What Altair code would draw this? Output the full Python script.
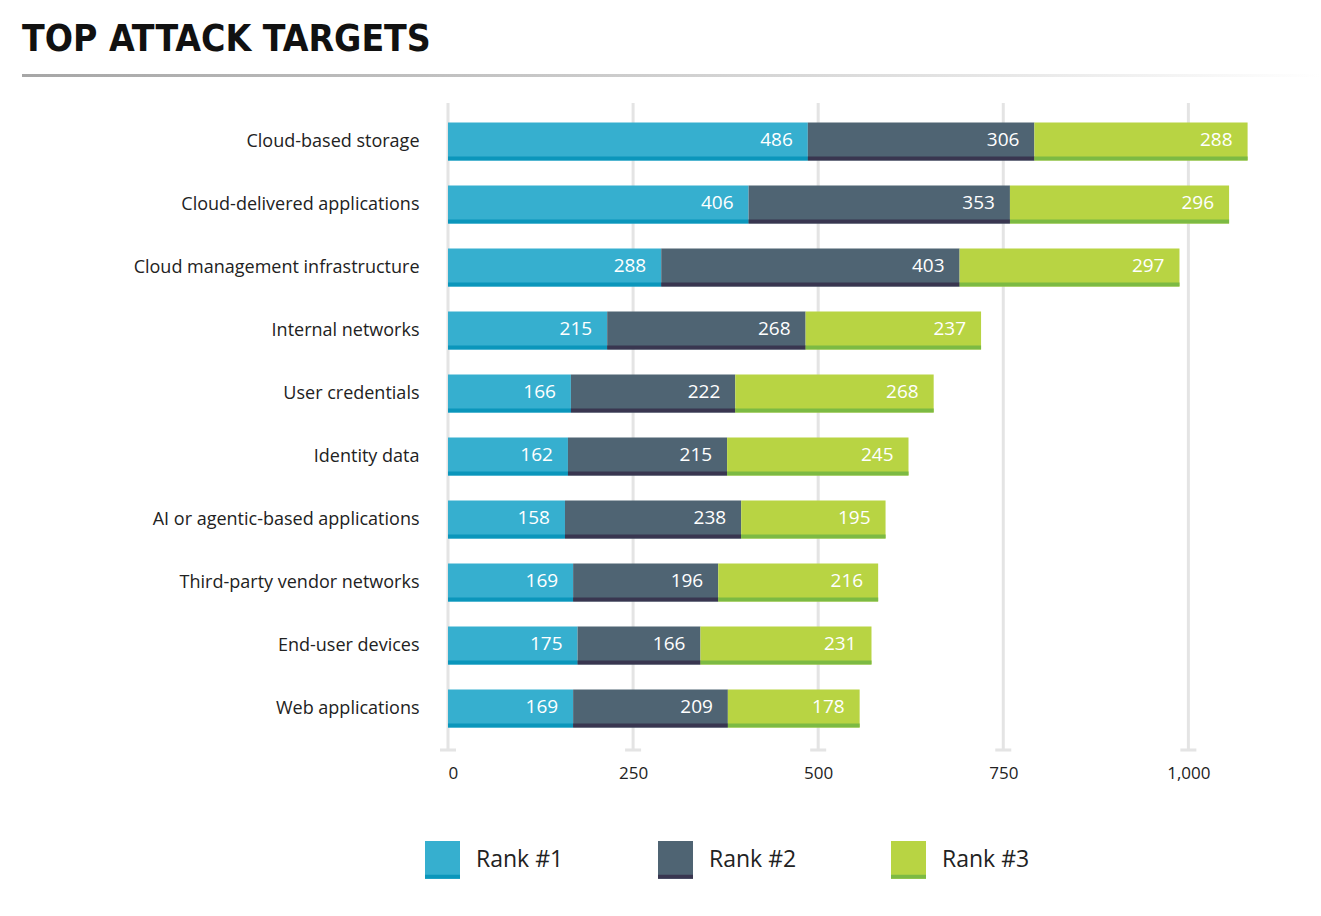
import altair as alt
import pandas as pd

# Survey results: how often each target was ranked #1, #2 and #3
targets = [
    "Cloud-based storage",
    "Cloud-delivered applications",
    "Cloud management infrastructure",
    "Internal networks",
    "User credentials",
    "Identity data",
    "AI or agentic-based applications",
    "Third-party vendor networks",
    "End-user devices",
    "Web applications",
]
rank1 = [486, 406, 288, 215, 166, 162, 158, 169, 175, 169]
rank2 = [306, 353, 403, 268, 222, 215, 238, 196, 166, 209]
rank3 = [288, 296, 297, 237, 268, 245, 195, 216, 231, 178]

ranks = ["Rank #1", "Rank #2", "Rank #3"]
rank_ids = ["1", "2", "3"]
bar_colors = ["#36AFCF", "#4F6473", "#B8D443"]
strip_colors = ["#0B96BB", "#393650", "#7CBA43"]
tick_values = [0, 250, 500, 750, 1000]

# stacked segments with explicit start / end
rows = []
for i, t in enumerate(targets):
    start = 0
    for r, rid, vals in zip(ranks, rank_ids, [rank1, rank2, rank3]):
        v = vals[i]
        rows.append({"target": t, "rank": r, "rank_id": rid, "value": v,
                     "start": start, "end": start + v})
        start += v
df = pd.DataFrame(rows)
grid_df = pd.DataFrame({"tick": tick_values})
one = pd.DataFrame({"k": [0]})

W, H = 807, 630
LEFT, TOP = 448, 110
FONT = "Open Sans"

x_scale = alt.Scale(domain=[0, 1090], nice=False, zero=True)
x_axis = alt.Axis(
    title=None, values=tick_values, format=",.0f", domain=False, ticks=False,
    grid=False, labelPadding=25, labelFontSize=17, labelFont=FONT,
    labelColor="#222",
)
y_enc = alt.Y(
    "target:N",
    sort=targets,
    scale=alt.Scale(paddingInner=0, paddingOuter=0),
    axis=alt.Axis(
        title=None, domain=False, ticks=False, labelPadding=29,
        labelFontSize=18, labelFont=FONT, labelColor="#222", labelLimit=400,
    ),
)

legend_common = dict(
    title=None, orient="none", legendX=-23, legendY=732, direction="horizontal",
    symbolSize=1225, symbolStrokeWidth=0, symbolOpacity=1,
    labelFontSize=23, labelFont=FONT, labelColor="#222", labelOffset=16,
    columnPadding=94, padding=0,
)

# vertical gridlines with a small cap at the bottom
grid = alt.Chart(grid_df).mark_rule(color="#e4e4e4", strokeWidth=3).encode(
    x=alt.X("tick:Q", scale=x_scale, axis=x_axis),
    y=alt.value(-7),
    y2=alt.value(640),
)
caps = alt.Chart(grid_df).mark_point(
    shape="M-1,-0.19H1V0.19H-1Z", filled=True, size=256, color="#e4e4e4", opacity=1
).encode(x=alt.X("tick:Q", scale=x_scale), y=alt.value(640))

# fading separator under the title
separator = alt.Chart(one).mark_rect(
    color=alt.LinearGradient(
        gradient="linear",
        stops=[
            alt.GradientStop(color="#a6a6a6", offset=0),
            alt.GradientStop(color="#d8d8d8", offset=0.6),
            alt.GradientStop(color="#ffffff", offset=1),
        ],
        x1=0, x2=1, y1=0, y2=0,
    )
).encode(
    x=alt.value(22 - LEFT), x2=alt.value(1321 - LEFT),
    y=alt.value(-36), y2=alt.value(-33),
)

bars = alt.Chart(df).mark_bar(size=38).encode(
    x=alt.X("start:Q", scale=x_scale),
    x2="end:Q",
    y=y_enc,
    color=alt.Color(
        "rank:N", scale=alt.Scale(domain=ranks, range=bar_colors),
        legend=alt.Legend(symbolType="M-1,-1.08H1V1.08H-1Z", **legend_common),
    ),
)

# darker edge along the bottom of each segment (and of each legend swatch)
strips = alt.Chart(df).mark_bar(size=4, yOffset=17).encode(
    x=alt.X("start:Q", scale=x_scale),
    x2="end:Q",
    y=alt.Y("target:N", sort=targets),
    fill=alt.Fill(
        "rank_id:N", scale=alt.Scale(domain=rank_ids, range=strip_colors),
        legend=alt.Legend(
            symbolType="M-1,0.85H1V1.08H-1Z", labelOpacity=0,
            labelExpr="'Rank #' + datum.label", **legend_common,
        ),
    ),
)

labels = alt.Chart(df).mark_text(
    align="right", baseline="middle", dx=-15, dy=-2, color="white",
    fontSize=19, font=FONT,
).encode(
    x=alt.X("end:Q", scale=x_scale),
    y=alt.Y("target:N", sort=targets),
    text="value:Q",
)

chart = alt.layer(grid, caps, separator, bars, strips, labels).properties(
    width=W,
    height=H,
    autosize="none",
    padding={"left": LEFT, "top": TOP, "right": 1321 - LEFT - W, "bottom": 916 - TOP - H},
    title=alt.TitleParams(
        "TOP ATTACK TARGETS", anchor="start", frame="group", dx=-(LEFT - 22),
        fontSize=37, font="DejaVu Sans Condensed", fontWeight="bold", color="#111",
        offset=15,
    ),
).configure(background="white").configure_view(stroke=None)

chart.save("out.html", embed_options={"renderer": "svg", "actions": False})
